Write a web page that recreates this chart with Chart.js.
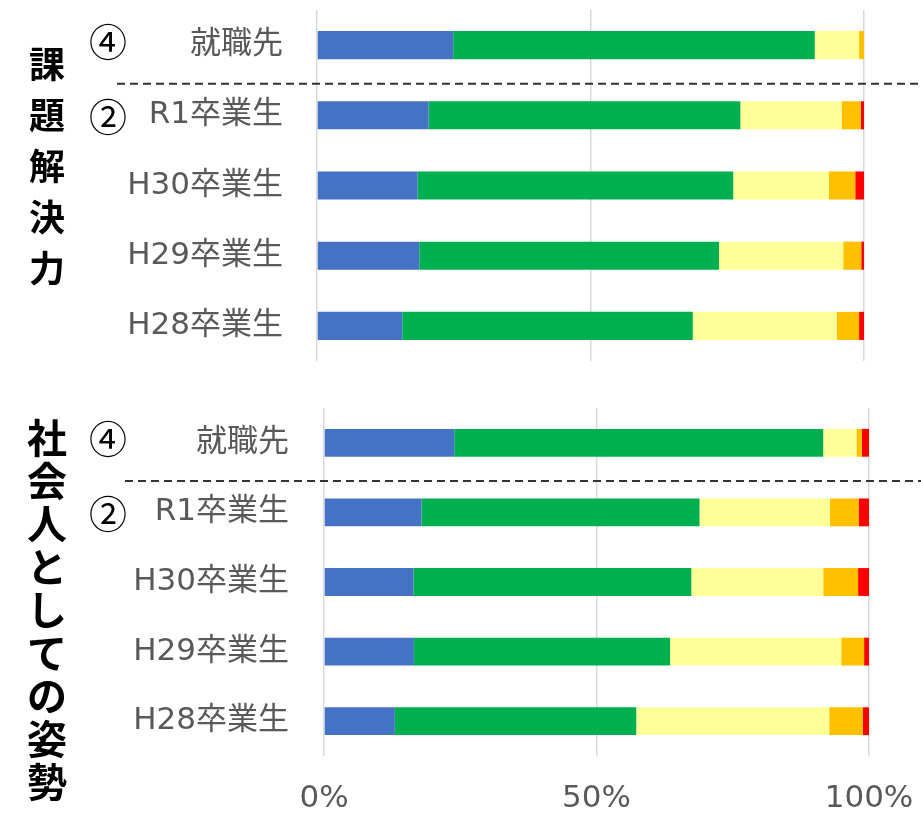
<!DOCTYPE html>
<html lang="ja">
<head>
<meta charset="utf-8">
<script src="https://cdn.jsdelivr.net/npm/chart.js@4/dist/chart.umd.min.js"></script>
<style>
  body { margin: 0; background: #fff; font-family: "Noto Sans CJK JP", sans-serif; }
  #wrap { position: relative; width: 921px; height: 817px; overflow: hidden; }
  canvas { position: absolute; left: 0; }
  .title { position: absolute; left: 17px; width: 60px; text-align: center; font-weight: bold; color: #000; }
  .num { position: absolute; left: 84px; width: 48px; text-align: center; font-size: 38px; line-height: 44px; color: #000; }
</style>
</head>
<body>
<div id="wrap">
  <canvas id="chartTop" width="921" height="370" style="top:0"></canvas>
  <canvas id="chartBottom" width="921" height="447" style="top:370px"></canvas>

  <div class="title" style="top:37px; font-size:36px; line-height:51px;">課<br>題<br>解<br>決<br>力</div>
  <div class="title" style="top:415px; font-size:40px; line-height:43px;">社<br>会<br>人<br>と<br>し<br>て<br>の<br>姿<br>勢</div>

  <div class="num" style="top:18px">④</div>
  <div class="num" style="top:93px">②</div>
  <div class="num" style="top:415px">④</div>
  <div class="num" style="top:490px">②</div>
</div>

<script>
const categories = ['就職先', 'R1卒業生', 'H30卒業生', 'H29卒業生', 'H28卒業生'];
const xTicks = [0, 50, 100];

// 課題解決力
const kadaiLevel5 = [24.9, 20.4, 18.4, 18.7, 15.6];
const kadaiLevel4 = [66.1, 57.0, 57.7, 54.8, 53.1];
const kadaiLevel3 = [8.1, 18.5, 17.5, 22.7, 26.3];
const kadaiLevel2 = [0.9, 3.5, 4.8, 3.3, 4.1];
const kadaiLevel1 = [0.0, 0.6, 1.6, 0.5, 0.9];

// 社会人としての姿勢
const shiseiLevel5 = [23.9, 17.9, 16.4, 16.5, 13.0];
const shiseiLevel4 = [67.7, 51.0, 51.0, 47.0, 44.3];
const shiseiLevel3 = [6.1, 23.9, 24.2, 31.4, 35.4];
const shiseiLevel2 = [1.0, 5.3, 6.4, 4.2, 6.2];
const shiseiLevel1 = [1.3, 1.9, 2.0, 0.9, 1.1];

const colors = ['#4472C4', '#00B050', '#FFFF99', '#FFC000', '#FF0000'];
const FONT = '"DejaVu Sans", "Noto Sans CJK JP", sans-serif';

// dashed separator between 就職先 and the graduates
const dashLine = {
    id: 'dashLine',
    afterDraw(chart, args, opts) {
        const ctx = chart.ctx;
        const y = chart.scales.y.getPixelForValue(0.55);
        ctx.save();
        ctx.strokeStyle = '#333';
        ctx.lineWidth = 2;
        ctx.setLineDash([8, 5]);
        ctx.beginPath();
        ctx.moveTo(opts.x0, y);
        ctx.lineTo(921, y);
        ctx.stroke();
        ctx.restore();
    }
};

const makeChart = (id, series, cfg) => {
    const ctx = document.getElementById(id).getContext('2d');
    return new Chart(ctx, {
        type: 'bar',
        data: {
            labels: categories,
            datasets: series.map((values, i) => ({
                label: 'level' + (5 - i),
                data: values,
                backgroundColor: colors[i],
                borderWidth: 0,
                categoryPercentage: 0.4,
                barPercentage: 1.0,
            })),
        },
        options: {
            indexAxis: 'y',
            responsive: false,
            animation: false,
            layout: {
                padding: { top: cfg.padTop, bottom: cfg.padBottom, left: 0, right: cfg.padRight },
            },
            plugins: {
                legend: { display: false },
                tooltip: { enabled: false },
                dashLine: { x0: cfg.dashX0 },
            },
            scales: {
                x: {
                    stacked: true,
                    min: 0,
                    max: 100,
                    afterBuildTicks: (scale) => { scale.ticks = xTicks.map(v => ({ value: v })); },
                    grid: { color: '#D9D9D9', lineWidth: 1.5, drawTicks: false },
                    border: { display: false },
                    ticks: {
                        display: cfg.showTicks,
                        padding: 24,
                        color: '#595959',
                        font: { family: FONT, size: 31 },
                        callback: (v) => v + '%',
                    },
                    afterFit: (scale) => {
                        scale.height = cfg.xHeight;
                        scale.paddingLeft = 0;
                        scale.paddingRight = 0;
                    },
                },
                y: {
                    stacked: true,
                    grid: { display: false, drawTicks: false },
                    border: { display: false },
                    ticks: {
                        padding: cfg.labelPad,
                        color: '#595959',
                        font: { family: FONT, size: 31 },
                    },
                    afterFit: (scale) => {
                        scale.width = cfg.left;
                        scale.paddingTop = 0;
                        scale.paddingBottom = 0;
                    },
                },
            },
        },
        plugins: [dashLine],
    });
};

makeChart('chartTop',
    [kadaiLevel5, kadaiLevel4, kadaiLevel3, kadaiLevel2, kadaiLevel1],
    { padTop: 10, padBottom: 9, padRight: 57, left: 317, labelPad: 34, xHeight: 0, showTicks: false, dashX0: 117 });

makeChart('chartBottom',
    [shiseiLevel5, shiseiLevel4, shiseiLevel3, shiseiLevel2, shiseiLevel1],
    { padTop: 38, padBottom: 0, padRight: 52, left: 324, labelPad: 35, xHeight: 61, showTicks: true, dashX0: 125 });
</script>
</body>
</html>
